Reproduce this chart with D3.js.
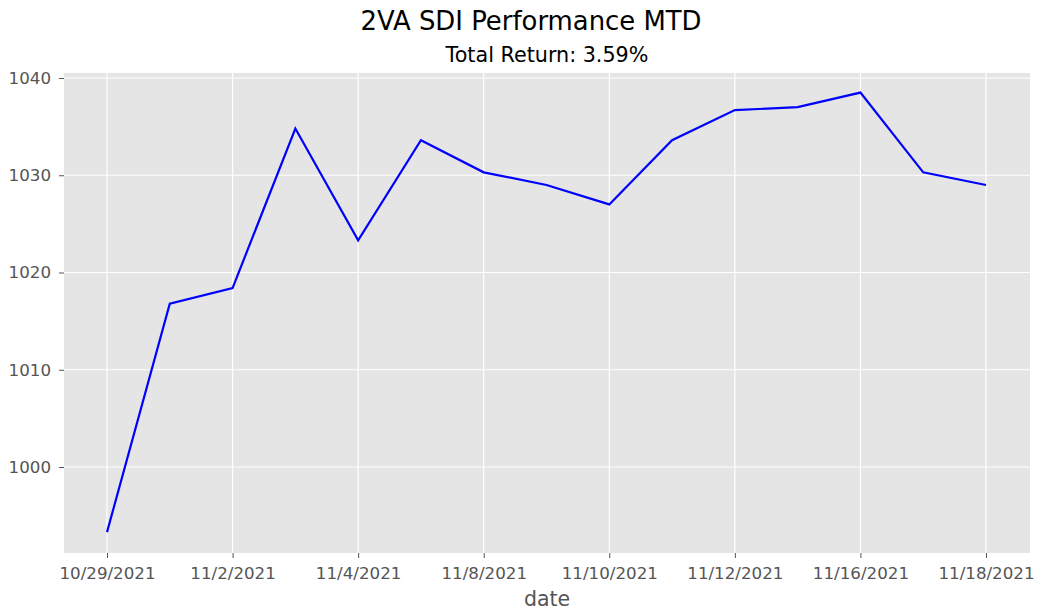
<!DOCTYPE html>
<html><head><meta charset="utf-8">
<script src="https://cdn.jsdelivr.net/npm/d3@7"></script>
<style>body{margin:0;background:#fff;font-family:"DejaVu Sans",sans-serif;}</style>
</head><body>
<svg id="c" width="1039" height="613"></svg>
<script>
const dates = ["10/29/2021","11/1/2021","11/2/2021","11/3/2021","11/4/2021","11/5/2021","11/8/2021","11/9/2021","11/10/2021","11/11/2021","11/12/2021","11/15/2021","11/16/2021","11/17/2021","11/18/2021"];
const values = [993.3,1016.8,1018.4,1034.8,1023.3,1033.6,1030.3,1029.0,1027.0,1033.6,1036.7,1037.0,1038.5,1030.3,1029.0];
const yTicks = [1000,1010,1020,1030,1040];
const title = "2VA SDI Performance MTD";
const subtitle = "Total Return: 3.59%";
const xLabel = "date";

const svg = d3.select("#c");
const L=64, R=1030, T=73, B=553;
const x = d3.scalePoint().domain(d3.range(dates.length)).range([107,986]);
const y = d3.scaleLinear().domain([1000,1040]).range([467,78]);

svg.append("rect").attr("x",L).attr("y",T).attr("width",R-L).attr("height",B-T).attr("fill","#e5e5e5");

const xTickIdx = d3.range(0,dates.length,2);
// grid
svg.append("g").selectAll("line").data(yTicks).join("line")
  .attr("x1",L).attr("x2",R).attr("y1",d=>y(d)).attr("y2",d=>y(d))
  .attr("stroke","#fff").attr("stroke-width",1.2);
svg.append("g").selectAll("line").data(xTickIdx).join("line")
  .attr("x1",d=>x(d)).attr("x2",d=>x(d)).attr("y1",T).attr("y2",B)
  .attr("stroke","#fff").attr("stroke-width",1.2);

// axes
const xa = svg.append("g").attr("transform",`translate(0,${B})`)
  .call(d3.axisBottom(x).tickValues(xTickIdx).tickFormat(i=>dates[i]).tickSize(5).tickPadding(9));
const ya = svg.append("g").attr("transform",`translate(${L},0)`)
  .call(d3.axisLeft(y).tickValues(yTicks).tickFormat(d3.format("d")).tickSize(5).tickPadding(8));
[xa,ya].forEach(a=>{
  a.select(".domain").remove();
  a.selectAll(".tick line").attr("stroke","#555").attr("stroke-width",1);
  a.selectAll(".tick text").attr("fill","#555").style("font-family","DejaVu Sans").style("font-size","16.7px");
});

svg.append("path").datum(values)
  .attr("d", d3.line().x((d,i)=>x(i)).y(d=>y(d)))
  .attr("fill","none").attr("stroke","#0000ff").attr("stroke-width",2.2);

svg.append("text").attr("x",531).attr("y",30).attr("text-anchor","middle")
  .style("font-size","25.9px").attr("fill","#000").text(title);
svg.append("text").attr("x",547).attr("y",62).attr("text-anchor","middle")
  .style("font-size","20.7px").attr("fill","#000").text(subtitle);
svg.append("text").attr("x",547).attr("y",606).attr("text-anchor","middle")
  .style("font-size","20.5px").attr("fill","#555").text(xLabel);
</script>
</body></html>
